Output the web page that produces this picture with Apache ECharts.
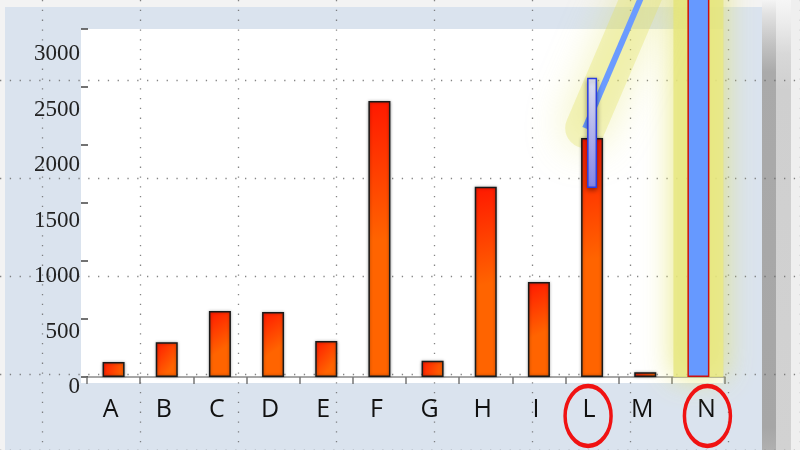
<!DOCTYPE html>
<html>
<head>
<meta charset="utf-8">
<script src="https://cdn.jsdelivr.net/npm/echarts@6/dist/echarts.min.js"></script>
<style>html,body{margin:0;padding:0;background:#f3f3f3;}#c{width:800px;height:450px;}</style>
</head>
<body>
<div id="c"></div>
<script>
// ---- data ----
const categories = ['A', 'B', 'C', 'D', 'E', 'F', 'G', 'H', 'I', 'L', 'M', 'N'];
const values = [130, 300, 570, 560, 310, 2380, 140, 1640, 820, 2060, 40, 3600];
const highlightCategory = 'N';
const overlayCategory = 'L';
const overlayLow = 1630;
const overlayHigh = 2580;
const trendLine = [[8.87, 2146], [10.06, 3420]];
const circledCategories = ['L', 'N'];
const circleValue = -336;
const yMin = 0, yMax = 3000, yStep = 500;

// ---- build ----
const hiIdx = categories.indexOf(highlightCategory);
const ovIdx = categories.indexOf(overlayCategory);

const orange = {
  type: 'linear', x: 0, y: 0, x2: 1, y2: 0.5,
  colorStops: [{offset: 0, color: '#ff1800'}, {offset: 1, color: '#ff6400'}]
};

const mainData = values.map((v, i) => i === hiIdx ? {
  value: v,
  itemStyle: {color: '#6699ff', borderColor: '#cc1010', borderWidth: 1.5, shadowBlur: 0}
} : v);

const glowData = categories.map((c, i) => i === hiIdx ? values[i] : null);
const ovBase = categories.map((c, i) => i === ovIdx ? overlayLow : null);
const ovTop = categories.map((c, i) => i === ovIdx ? overlayHigh - overlayLow : null);

const circleData = circledCategories.map(c => ({
  value: [c, circleValue],
  symbolOffset: [c === 'N' ? 9 : -4, 0]
}));

const chart = echarts.init(document.getElementById('c'), null, {renderer: 'canvas'});

const hiddenCat = (grid) => ({
  type: 'category', data: categories, gridIndex: grid, show: false,
  axisLine: {show: false, onZero: false}, axisTick: {show: false}, axisLabel: {show: false}
});
const dotted = {show: true, lineStyle: {color: '#666', width: 1.3, type: [1.3, 8.5], opacity: 0.8}};
const bareValue = (grid, extra) => Object.assign({
  type: 'value', gridIndex: grid,
  axisLine: {show: false, onZero: false}, axisTick: {show: false}, axisLabel: {show: false},
  splitLine: {show: false}
}, extra);

chart.setOption({
  backgroundColor: '#f3f3f3',
  animation: false,
  graphic: [
    {type: 'rect', z: -10, shape: {x: 5, y: 7, width: 757, height: 443}, style: {fill: '#dae3ee'}},
    {type: 'rect', z: -10, shape: {x: 762, y: 0, width: 14, height: 450}, style: {fill: {
      type: 'linear', x: 0, y: 0, x2: 0, y2: 1,
      colorStops: [{offset: 0, color: '#f4f4f4'}, {offset: 0.03, color: '#e2e2e2'}, {offset: 0.1, color: '#c2c2c2'},
        {offset: 0.16, color: '#aaaaaa'}, {offset: 0.95, color: '#a6a6a6'}, {offset: 1, color: '#b0b0b0'}]}}},
    {type: 'rect', z: -10, shape: {x: 776, y: 0, width: 15, height: 450}, style: {fill: {
      type: 'linear', x: 0, y: 0, x2: 0, y2: 1,
      colorStops: [{offset: 0, color: '#f6f6f6'}, {offset: 0.05, color: '#ececec'}, {offset: 0.12, color: '#d8d8d8'},
        {offset: 0.2, color: '#cfcfcf'}, {offset: 1, color: '#d2d2d2'}]}}},
    {type: 'rect', z: -10, shape: {x: 791, y: 0, width: 9, height: 450}, style: {fill: '#efefef'}},
    {type: 'rect', z: -10, shape: {x: 81, y: 29, width: 642, height: 354}, style: {fill: '#ffffff'}}
  ],
  grid: [
    {left: 87, right: 75, top: 29, bottom: 73},
    {left: 87, right: 75, top: 54, bottom: 63},
    {left: 42, right: 0, top: 0, bottom: 0},
    {left: 0, right: 0, top: 80, bottom: 0}
  ],
  xAxis: [
    {
      type: 'category', data: categories, gridIndex: 0,
      axisLine: {onZero: false, lineStyle: {color: '#8a8a8a', width: 1.5}},
      axisTick: {show: true, length: 7, lineStyle: {color: '#777', width: 1.5}},
      axisLabel: {
        interval: 0, margin: 20, color: '#111', fontFamily: 'Open Sans', fontSize: 25,
        formatter: v => v === 'N' ? '{n|N}' : '{o|' + v + '}',
        rich: {
          o: {fontFamily: 'Open Sans', fontSize: 25, color: '#111', padding: [0, 6, 0, 0]},
          n: {fontFamily: 'Open Sans', fontSize: 25, color: '#111', padding: [0, 0, 0, 16]}
        }
      },
      splitLine: {show: false}
    },
    hiddenCat(0),
    hiddenCat(0),
    bareValue(0, {min: -0.5, max: 11.5, show: false}),
    hiddenCat(1),
    bareValue(2, {min: 0, max: 758, interval: 98, splitLine: dotted}),
    bareValue(3, {min: 0, max: 800})
  ],
  yAxis: [
    {
      type: 'value', gridIndex: 0, min: yMin, max: yMax, interval: yStep, offset: 6,
      axisLine: {show: false, onZero: false},
      axisTick: {show: true, inside: true, length: 7, lineStyle: {color: '#444', width: 1.5}},
      axisLabel: {show: false}, splitLine: {show: false}
    },
    {
      type: 'value', gridIndex: 1, min: yMin, max: yMax, interval: yStep, offset: 6,
      axisLine: {show: false, onZero: false}, axisTick: {show: false},
      axisLabel: {margin: 1, color: '#222', fontFamily: 'Liberation Serif', fontSize: 23, formatter: v => String(v)},
      splitLine: {show: false}
    },
    bareValue(2, {min: 0, max: 450}),
    bareValue(3, {min: 0, max: 370, interval: 98, inverse: true, splitLine: dotted})
  ],
  series: [
    {
      name: 'glow', type: 'bar', xAxisIndex: 2, yAxisIndex: 0, data: glowData,
      barWidth: 50, z: 1, clip: false, silent: true,
      itemStyle: {color: 'rgba(230,230,125,0.8)', shadowBlur: 30, shadowColor: 'rgba(226,226,100,1)'}
    },
    {
      name: 'trendGlow', type: 'line', xAxisIndex: 3, yAxisIndex: 0, data: trendLine,
      symbol: 'none', z: 1, clip: false, silent: true,
      lineStyle: {color: 'rgba(226,226,100,0.35)', width: 40, cap: 'round', shadowBlur: 40, shadowColor: 'rgba(220,220,70,1)'}
    },
    {
      name: 'trend', type: 'line', xAxisIndex: 3, yAxisIndex: 0, data: trendLine,
      symbol: 'none', z: 2, clip: false, silent: true,
      lineStyle: {color: '#6b9bff', width: 6, cap: 'butt'}
    },
    {
      name: 'values', type: 'bar', xAxisIndex: 0, yAxisIndex: 0, data: mainData,
      barWidth: 22, z: 3, clip: false,
      itemStyle: {color: orange, borderColor: '#1a1a1a', borderWidth: 1.5, shadowBlur: 3, shadowColor: 'rgba(0,0,0,0.35)'}
    },
    {
      name: 'ovBase', type: 'bar', stack: 'ov', xAxisIndex: 1, yAxisIndex: 0, data: ovBase,
      barWidth: 10, z: 4, silent: true, itemStyle: {color: 'transparent'}
    },
    {
      name: 'ovTop', type: 'bar', stack: 'ov', xAxisIndex: 1, yAxisIndex: 0, data: ovTop,
      barWidth: 10, z: 4,
      itemStyle: {
        color: {type: 'linear', x: 0, y: 0, x2: 0, y2: 1,
          colorStops: [{offset: 0, color: '#eceeff'}, {offset: 1, color: '#8a8cf5'}]},
        borderColor: '#2a3de0', borderWidth: 1.5,
        shadowBlur: 5, shadowOffsetY: 2, shadowColor: 'rgba(0,0,0,0.4)'
      }
    },
    {
      name: 'circles', type: 'scatter', xAxisIndex: 0, yAxisIndex: 0, data: circleData,
      symbol: 'path://M0,32A24.5,32,0,1,1,49,32A24.5,32,0,1,1,0,32Z',
      symbolSize: [46, 60], z: 6, clip: false, silent: true,
      itemStyle: {color: 'rgba(0,0,0,0)', borderColor: '#f01212', borderWidth: 4, opacity: 1}
    }
  ]
});
</script>
</body>
</html>
